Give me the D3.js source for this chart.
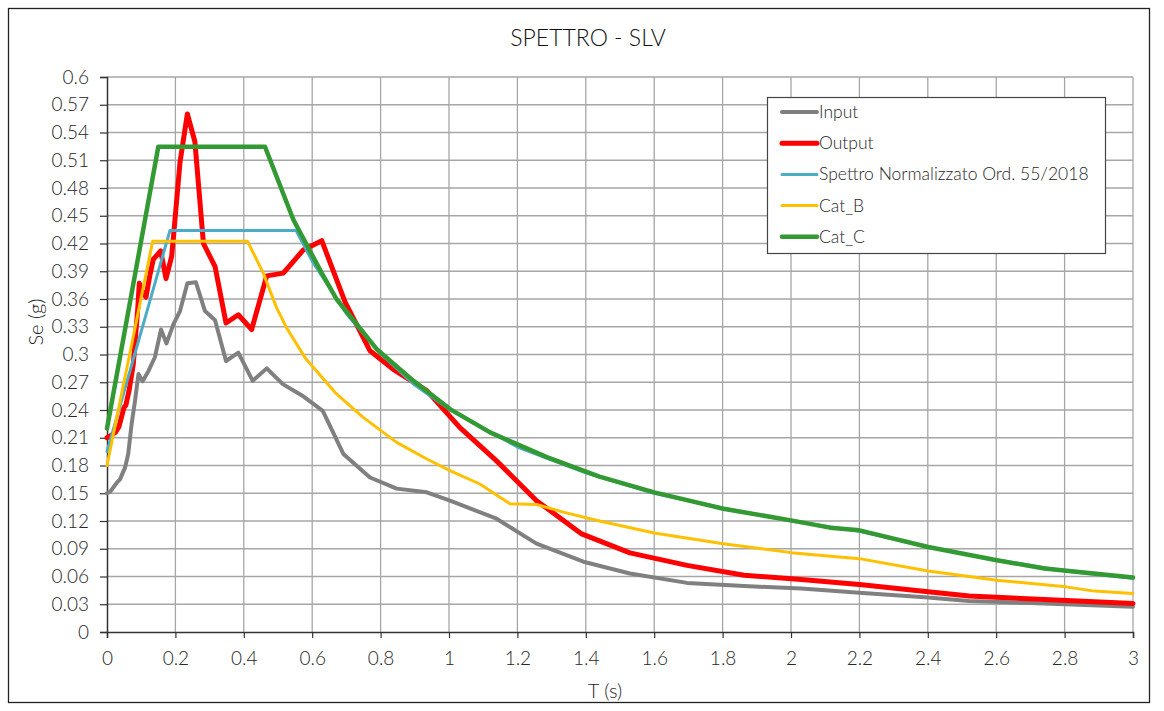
<!DOCTYPE html>
<html>
<head>
<meta charset="utf-8">
<script src="https://cdn.jsdelivr.net/npm/d3@7"></script>
<style>
  html, body { margin: 0; padding: 0; background: #fff; }
  svg { display: block; }
  text { font-family: Lato, "Noto Sans", sans-serif; fill: #262626; }
</style>
</head>
<body>
<svg id="chart" width="1164" height="711"></svg>
<script>
// ---------- DATA ----------
const chartTitle = "SPETTRO - SLV";
const xTitle = "T (s)";
const yTitle = "Se (g)";
const xTicks = [0, 0.2, 0.4, 0.6, 0.8, 1, 1.2, 1.4, 1.6, 1.8, 2, 2.2, 2.4, 2.6, 2.8, 3];
const yTicks = [0, 0.03, 0.06, 0.09, 0.12, 0.15, 0.18, 0.21, 0.24, 0.27, 0.3, 0.33, 0.36, 0.39, 0.42, 0.45, 0.48, 0.51, 0.54, 0.57, 0.6];
const seriesNames = ["Input", "Output", "Spettro Normalizzato Ord. 55/2018", "Cat_B", "Cat_C"];

const inputT = [0, 0.01, 0.02, 0.03, 0.038, 0.053, 0.062, 0.072, 0.082, 0.092, 0.104, 0.121, 0.14, 0.158, 0.174, 0.194, 0.2135, 0.235, 0.26, 0.2865, 0.316, 0.348, 0.384, 0.426, 0.467, 0.514, 0.569, 0.631, 0.691, 0.769, 0.847, 0.935, 1.003, 1.139, 1.256, 1.393, 1.529, 1.696, 1.863, 2.03, 2.2, 2.401, 2.521, 2.741, 3.0];
const inputV = [0.15, 0.152, 0.157, 0.162, 0.165, 0.178, 0.1925, 0.225, 0.25, 0.279, 0.271, 0.282, 0.297, 0.327, 0.312, 0.3325, 0.347, 0.377, 0.378, 0.347, 0.337, 0.293, 0.302, 0.2715, 0.285, 0.268, 0.256, 0.239, 0.1925, 0.167, 0.155, 0.151, 0.142, 0.1225, 0.0955, 0.076, 0.0632, 0.0531, 0.0496, 0.047, 0.0424, 0.0373, 0.0334, 0.0309, 0.0273];

const outputT = [0, 0.01, 0.025, 0.035, 0.045, 0.05, 0.055, 0.065, 0.077, 0.09, 0.0945, 0.1, 0.114, 0.125, 0.1355, 0.157, 0.1725, 0.189, 0.195, 0.2135, 0.235, 0.257, 0.282, 0.316, 0.348, 0.384, 0.423, 0.467, 0.5155, 0.574, 0.628, 0.696, 0.769, 0.837, 0.935, 1.032, 1.139, 1.256, 1.388, 1.529, 1.696, 1.863, 2.03, 2.2, 2.401, 2.521, 2.741, 3.0];
const outputV = [0.21, 0.212, 0.216, 0.222, 0.236, 0.243, 0.245, 0.262, 0.29, 0.35, 0.377, 0.37, 0.362, 0.385, 0.403, 0.412, 0.382, 0.406, 0.43, 0.508, 0.56, 0.53, 0.42, 0.395, 0.334, 0.343, 0.327, 0.385, 0.388, 0.413, 0.423, 0.357, 0.304, 0.284, 0.261, 0.221, 0.185, 0.142, 0.106, 0.0855, 0.072, 0.0614, 0.0568, 0.0514, 0.0434, 0.0388, 0.0352, 0.0309];

const normT = [0, 0.184, 0.553, 0.6, 0.7, 0.8, 0.9, 1.0, 1.2, 1.4, 1.6, 1.8, 2.0, 2.2, 2.4, 2.6, 2.8, 3.0];
const normV = [0.195, 0.434, 0.434, 0.401, 0.344, 0.301, 0.267, 0.241, 0.2, 0.172, 0.15, 0.134, 0.12, 0.109, 0.092, 0.078, 0.066, 0.058];

const catBT = [0, 0.1335, 0.411, 0.457, 0.496, 0.525, 0.579, 0.667, 0.749, 0.847, 0.935, 1.003, 1.09, 1.178, 1.256, 1.334, 1.44, 1.6, 1.802, 2.0, 2.2, 2.401, 2.602, 2.803, 2.887, 3.0];
const catBV = [0.18, 0.4223, 0.4223, 0.388, 0.3504, 0.329, 0.2966, 0.2589, 0.232, 0.205, 0.187, 0.1745, 0.16, 0.1386, 0.1379, 0.1296, 0.12, 0.107, 0.0955, 0.0858, 0.0793, 0.066, 0.056, 0.0488, 0.0442, 0.0417];

const catCT = [0, 0.15, 0.462, 0.545, 0.628, 0.671, 0.788, 0.896, 1.003, 1.12, 1.286, 1.44, 1.6, 1.802, 2.0, 2.114, 2.2, 2.401, 2.602, 2.741, 3.0];
const catCV = [0.22, 0.5246, 0.5246, 0.4457, 0.388, 0.36, 0.306, 0.2715, 0.241, 0.2158, 0.189, 0.168, 0.151, 0.1333, 0.1207, 0.1128, 0.1099, 0.0919, 0.0776, 0.0686, 0.0589];

const seriesColors = ["#808080", "#ff0000", "#4bacc6", "#ffc000", "#339933"];
const seriesWidths = [4, 5, 3, 3, 4.5];

// ---------- CHART ----------
const svg = d3.select("#chart");
const x = d3.scaleLinear().domain([0, 3]).range([107, 1133]);
const y = d3.scaleLinear().domain([0, 0.6]).range([632, 77]);

// outer border
svg.append("rect").attr("x", 8.5).attr("y", 8.5).attr("width", 1141).attr("height", 694)
  .attr("fill", "#fff").attr("stroke", "#222").attr("stroke-width", 1.3);

// title
svg.append("text").attr("x", 588).attr("y", 46).attr("text-anchor", "middle")
  .attr("font-size", 23).attr("font-weight", 300).style("fill", "#111").text(chartTitle);

// grid
const grid = svg.append("g");
grid.selectAll("line.h").data(yTicks.filter(d => d > 0)).join("line")
  .attr("x1", x(0)).attr("x2", x(3)).attr("y1", d => y(d)).attr("y2", d => y(d))
  .attr("stroke", "#a6a6a6").attr("stroke-width", 1.3);
grid.selectAll("line.v").data(xTicks.filter(d => d > 0)).join("line")
  .attr("y1", y(0)).attr("y2", y(0.6)).attr("x1", d => x(d)).attr("x2", d => x(d))
  .attr("stroke", "#a6a6a6").attr("stroke-width", 1.3);

// axes
const yAxis = d3.axisLeft(y).tickValues(yTicks).tickSize(7).tickPadding(11)
  .tickFormat(d => d3.format("")(+d.toFixed(2)));
const xAxis = d3.axisBottom(x).tickValues(xTicks).tickSize(6).tickPadding(14)
  .tickFormat(d => d3.format("")(+d.toFixed(1)));
const gy = svg.append("g").attr("transform", `translate(${x(0)},0)`).call(yAxis);
const gx = svg.append("g").attr("transform", `translate(0,${y(0)})`).call(xAxis);
[gx, gy].forEach(g => {
  g.select(".domain").attr("stroke", "#333").attr("stroke-width", 1.5);
  g.selectAll(".tick line").attr("stroke", "#333").attr("stroke-width", 1.2);
  g.selectAll(".tick text").attr("font-size", 19).attr("font-weight", 300)
    .attr("font-family", "Lato, sans-serif").style("fill", "#262626");
});

// axis titles
svg.append("text").attr("x", 605).attr("y", 698).attr("text-anchor", "middle")
  .attr("font-size", 20).attr("font-weight", 300).text(xTitle);
svg.append("text").attr("transform", "translate(43,322) rotate(-90)").attr("text-anchor", "middle")
  .attr("font-size", 20).attr("font-weight", 300).text(yTitle);

// lines
const seriesT = [inputT, outputT, normT, catBT, catCT];
const seriesV = [inputV, outputV, normV, catBV, catCV];
const lineGen = d3.line().x(d => x(d[0])).y(d => y(d[1]));
seriesNames.forEach((name, i) => {
  const pts = seriesT[i].map((t, k) => [t, seriesV[i][k]]);
  svg.append("path").datum(pts).attr("d", lineGen)
    .attr("fill", "none").attr("stroke", seriesColors[i]).attr("stroke-width", seriesWidths[i])
    .attr("stroke-linejoin", "round").attr("stroke-linecap", "round");
});

// legend
const lg = svg.append("g");
lg.append("rect").attr("x", 767.5).attr("y", 97.5).attr("width", 338).attr("height", 156)
  .attr("fill", "#fff").attr("stroke", "#444").attr("stroke-width", 1.2);
seriesNames.forEach((name, i) => {
  const yy = 112 + i * 31.2;
  lg.append("line").attr("x1", 782).attr("x2", 817).attr("y1", yy).attr("y2", yy)
    .attr("stroke", seriesColors[i]).attr("stroke-width", seriesWidths[i]).attr("stroke-linecap", "round");
  lg.append("text").attr("x", 819).attr("y", yy + 6).attr("font-size", 17.5).attr("font-weight", 300).text(name);
});
</script>
</body>
</html>
